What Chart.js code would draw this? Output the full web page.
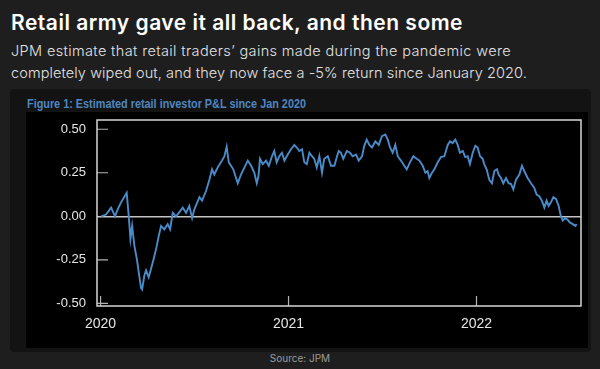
<!DOCTYPE html>
<html>
<head>
<meta charset="utf-8">
<script src="https://cdn.jsdelivr.net/npm/chart.js@4.4.1/dist/chart.umd.min.js"></script>
<style>
  html, body { margin: 0; padding: 0; }
  body { width: 600px; height: 369px; background: #1e1e1e; overflow: hidden; position: relative; font-family: Inter, 'Open Sans', sans-serif; }
  .t { position: absolute; white-space: nowrap; }
  #title { left: 11px; top: 10px; color: #fff; font-size: 21px; font-weight: 600; }
  #sub1, #sub2 { left: 11px; color: #e2e2e2; font-size: 14.5px; font-weight: 300; }
  #sub1 { top: 42px; }
  #sub2 { top: 64px; }
  #panel { position: absolute; left: 10px; top: 89px; width: 581px; height: 263px; background: #131313; border-radius: 4px; }
  #figtitle { left: 27px; top: 96px; color: #4f86c0; font: bold 13px 'Liberation Sans', Arial, sans-serif; transform-origin: left top; }
  #plot { position: absolute; left: 26px; top: 112px; width: 562px; height: 236px; background: #000; }
  #source { left: 0; width: 600px; top: 352px; text-align: center; color: #9a9a9a; font-size: 10px; }
</style>
</head>
<body>
<div class="t" id="title">Retail army gave it all back, and then some</div>
<div class="t" id="sub1">JPM estimate that retail traders’ gains made during the pandemic were</div>
<div class="t" id="sub2">completely wiped out, and they now face a -5% return since January 2020.</div>
<div id="panel"></div>
<div class="t" id="figtitle">Figure 1: Estimated retail investor P&amp;L since Jan 2020</div>
<div id="plot"><canvas id="chart" width="562" height="236"></canvas></div>
<div class="t" id="source">Source: JPM</div>
<script>
// time in years
const years = [
  2020.003, 2020.029, 2020.056, 2020.077, 2020.091, 2020.109, 2020.139, 2020.150, 2020.159, 2020.168,
  2020.180, 2020.193, 2020.203, 2020.215, 2020.221, 2020.233, 2020.242, 2020.256, 2020.269, 2020.286,
  2020.299, 2020.310, 2020.322, 2020.339, 2020.357, 2020.370, 2020.384, 2020.402,
  2020.437, 2020.455, 2020.472, 2020.487, 2020.499, 2020.526, 2020.540, 2020.561, 2020.579, 2020.593,
  2020.605, 2020.623, 2020.646, 2020.659, 2020.671, 2020.682, 2020.694, 2020.706, 2020.730, 2020.747,
  2020.765, 2020.783, 2020.801, 2020.818, 2020.831,
  2020.840, 2020.848, 2020.863, 2020.880, 2020.895, 2020.912, 2020.924, 2020.937, 2020.951, 2020.965,
  2020.978, 2020.996, 2021.013, 2021.031, 2021.044, 2021.057, 2021.072, 2021.084, 2021.097, 2021.111,
  2021.125, 2021.137, 2021.150, 2021.164, 2021.178, 2021.190, 2021.209, 2021.226, 2021.244, 2021.258,
  2021.267, 2021.279, 2021.291, 2021.310, 2021.327, 2021.341, 2021.359, 2021.373, 2021.391, 2021.403,
  2021.416, 2021.430, 2021.444, 2021.462, 2021.480, 2021.497, 2021.515, 2021.528, 2021.540, 2021.554,
  2021.568, 2021.581, 2021.598, 2021.616, 2021.629, 2021.646, 2021.664, 2021.682,
  2021.696, 2021.714, 2021.728, 2021.740, 2021.749, 2021.763, 2021.776, 2021.794, 2021.811, 2021.829,
  2021.847, 2021.859, 2021.873, 2021.887, 2021.900, 2021.912, 2021.927, 2021.940, 2021.953, 2021.965,
  2021.980, 2021.994, 2022.006, 2022.019, 2022.033, 2022.041, 2022.054, 2022.068, 2022.082, 2022.095,
  2022.109,
  2022.118, 2022.130, 2022.143, 2022.157, 2022.171, 2022.184, 2022.196, 2022.210, 2022.228, 2022.242,
  2022.254, 2022.272, 2022.290, 2022.307, 2022.320, 2022.334, 2022.348, 2022.361, 2022.373, 2022.384,
  2022.396, 2022.409, 2022.423, 2022.437, 2022.449, 2022.459, 2022.472, 2022.485, 2022.497, 2022.512,
  2022.526, 2022.533
];

// estimated retail investor P&L
const pnl = [
  0.00, 0.01, 0.05, 0.00, 0.04, 0.08, 0.135, 0.00, -0.13, -0.055,
  -0.17, -0.245, -0.32, -0.41, -0.42, -0.34, -0.31, -0.35, -0.30, -0.23,
  -0.17, -0.11, -0.055, -0.075, -0.045, -0.075, 0.02, 0.00,
  0.05, 0.02, 0.06, -0.01, 0.04, 0.11, 0.09, 0.145, 0.21, 0.27,
  0.24, 0.28, 0.32, 0.345, 0.40, 0.31, 0.29, 0.27, 0.19, 0.24,
  0.28, 0.32, 0.29, 0.25, 0.19,
  0.23, 0.33, 0.30, 0.32, 0.29, 0.345, 0.375, 0.31, 0.345, 0.365,
  0.32, 0.355, 0.385, 0.41, 0.395, 0.375, 0.385, 0.31, 0.30, 0.365,
  0.345, 0.33, 0.28, 0.345, 0.25, 0.33, 0.345, 0.29, 0.29, 0.345,
  0.375, 0.365, 0.33, 0.375, 0.365, 0.345, 0.355, 0.32, 0.345, 0.405,
  0.44, 0.41, 0.395, 0.43, 0.41, 0.46, 0.47, 0.44, 0.395, 0.365,
  0.41, 0.345, 0.32, 0.29, 0.27, 0.31, 0.345, 0.33,
  0.32, 0.29, 0.25, 0.26, 0.22, 0.25, 0.27, 0.31, 0.34, 0.345,
  0.41, 0.43, 0.42, 0.44, 0.41, 0.365, 0.375, 0.34, 0.345, 0.30,
  0.365, 0.405, 0.395, 0.345, 0.33, 0.30, 0.27, 0.21, 0.19, 0.26,
  0.27,
  0.24, 0.22, 0.19, 0.22, 0.19, 0.185, 0.155, 0.21, 0.24, 0.29,
  0.26, 0.22, 0.19, 0.165, 0.125, 0.115, 0.09, 0.05, 0.09, 0.06,
  0.08, 0.11, 0.10, 0.06, 0.00, -0.025, -0.01, -0.02, -0.035, -0.045,
  -0.055, -0.045
];

const yTicks = [-0.5, -0.25, 0, 0.25, 0.5];
const xTicks = [2020, 2021, 2022];

function spreadTo(id, target) {
  const el = document.getElementById(id);
  const w = el.getBoundingClientRect().width;
  el.style.letterSpacing = ((target - w) / el.textContent.length) + 'px';
}
function squeezeTo(id, target) {
  const el = document.getElementById(id);
  const w = el.getBoundingClientRect().width;
  el.style.transform = 'scaleX(' + (target / w) + ')';
}
spreadTo('title', 452);
spreadTo('sub1', 500);
spreadTo('sub2', 516);
squeezeTo('figtitle', 279);

// box round the plot with short inner ticks
const framePlugin = {
  id: 'frame',
  afterDraw(chart) {
    const { ctx, chartArea: a, scales } = chart;
    ctx.save();
    ctx.strokeStyle = '#b4b4b4';
    ctx.lineWidth = 1.2;
    ctx.beginPath();
    yTicks.forEach(v => {
      if (v === 0) return;
      const y = scales.y.getPixelForValue(v);
      ctx.moveTo(a.left, y);
      ctx.lineTo(a.left + 11, y);
    });
    xTicks.forEach(v => {
      const x = scales.x.getPixelForValue(v);
      ctx.moveTo(x, a.bottom);
      ctx.lineTo(x, a.bottom - 10);
    });
    ctx.stroke();
    ctx.strokeStyle = '#d6d6d6';
    ctx.lineWidth = 1.5;
    ctx.strokeRect(a.left, a.top, a.right - a.left, a.bottom - a.top);
    ctx.restore();
  }
};

new Chart(document.getElementById('chart'), {
  type: 'line',
  data: {
    datasets: [{
      data: years.map((x, i) => ({ x: x, y: pnl[i] })),
      borderColor: '#4a8bc9',
      borderWidth: 1.9,
      pointRadius: 0,
      tension: 0,
      fill: false
    }]
  },
  options: {
    responsive: false,
    animation: false,
    layout: { padding: { top: 8, right: 7, left: 0, bottom: 0 } },
    plugins: {
      legend: { display: false },
      tooltip: { enabled: false }
    },
    scales: {
      x: {
        type: 'linear',
        min: 2019.981,
        max: 2022.556,
        afterBuildTicks: s => { s.ticks = xTicks.map(v => ({ value: v })); },
        afterFit: s => { s.height = 42; s.paddingLeft = 0; s.paddingRight = 0; },
        grid: { display: false, drawTicks: false },
        border: { display: false },
        ticks: {
          color: '#e6e6e6',
          font: { family: 'Liberation Sans', size: 14 },
          padding: 10,
          maxRotation: 0,
          autoSkip: false,
          callback: v => String(v)
        }
      },
      y: {
        min: -0.515,
        max: 0.553,
        afterBuildTicks: s => { s.ticks = yTicks.map(v => ({ value: v })); },
        afterFit: s => { s.width = 71; s.paddingTop = 0; s.paddingBottom = 0; },
        grid: {
          drawTicks: false,
          color: c => (c.tick && c.tick.value === 0) ? '#c4c4c4' : 'rgba(0,0,0,0)',
          lineWidth: 1.6
        },
        border: { display: false },
        ticks: {
          color: '#e6e6e6',
          font: { family: 'Liberation Sans', size: 13 },
          padding: 11,
          callback: v => v.toFixed(2)
        }
      }
    }
  },
  plugins: [framePlugin]
});
</script>
</body>
</html>
